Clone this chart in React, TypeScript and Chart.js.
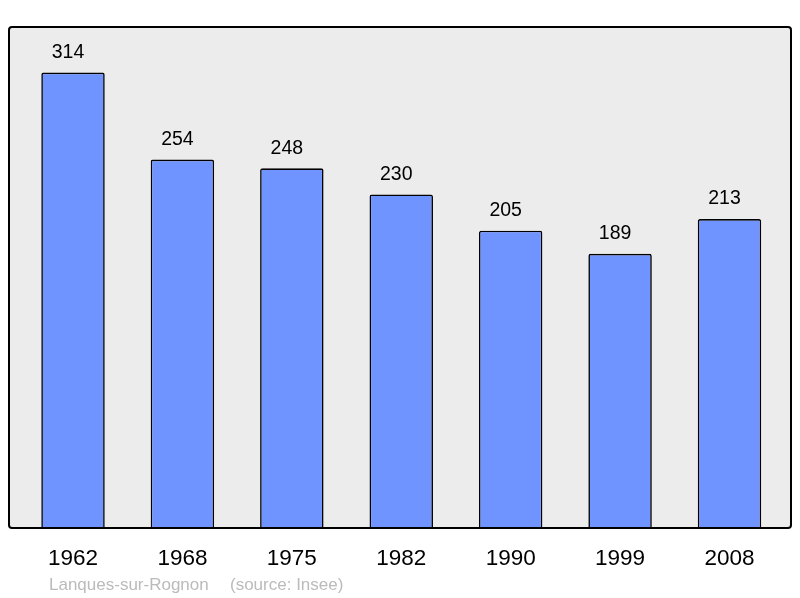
import React, { useEffect, useRef } from "react";
import { Chart, registerables } from "chart.js";

Chart.register(...registerables);

const years = ["1962", "1968", "1975", "1982", "1990", "1999", "2008"];
const population = [314, 254, 248, 230, 205, 189, 213];
const footerName = "Lanques-sur-Rognon";
const footerSource = "(source: Insee)";

const FONT = "'Liberation Sans', Arial, sans-serif";

function boxRect(chartArea: any) {
  return {
    l: chartArea.left - 9.3,
    r: chartArea.right + 6.8,
    t: chartArea.top,
    b: chartArea.bottom,
  };
}

const boxPlugin = {
  id: "grayBox",
  beforeDraw(chart: any) {
    const { ctx, chartArea } = chart;
    const { l, r, t, b } = boxRect(chartArea);
    ctx.save();
    ctx.beginPath();
    (ctx as any).roundRect(l, t, r - l, b - t, 3);
    ctx.fillStyle = "#ececec";
    ctx.fill();
    ctx.restore();
  },
  afterDatasetsDraw(chart: any) {
    const { ctx, chartArea } = chart;
    const { l, r, t, b } = boxRect(chartArea);
    ctx.save();
    ctx.beginPath();
    (ctx as any).roundRect(l, t, r - l, b - t, 3);
    ctx.lineWidth = 2;
    ctx.strokeStyle = "#000";
    ctx.stroke();
    // value labels
    const meta = chart.getDatasetMeta(0);
    ctx.fillStyle = "#000";
    ctx.font = `19.5px ${FONT}`;
    ctx.textAlign = "center";
    ctx.textBaseline = "middle";
    meta.data.forEach((bar: any, i: number) => {
      ctx.fillText(String(population[i]), bar.x - 5, bar.y - 20);
    });
    // footer
    ctx.fillStyle = "#bbbbbb";
    ctx.font = `17px ${FONT}`;
    ctx.textAlign = "left";
    ctx.textBaseline = "alphabetic";
    ctx.fillText(footerName, 49, 590);
    ctx.fillText(footerSource, 230, 590);
    ctx.restore();
  },
};

export default function App() {
  const ref = useRef<HTMLCanvasElement | null>(null);
  useEffect(() => {
    if (!ref.current) return;
    const chart = new Chart(ref.current, {
      type: "bar",
      data: {
        labels: years,
        datasets: [
          {
            data: population,
            backgroundColor: "#7094ff",
            borderColor: "#000",
            borderWidth: 1.6,
            borderRadius: { topLeft: 2, topRight: 2, bottomLeft: 0, bottomRight: 0 },
            borderSkipped: "bottom",
            barPercentage: 0.58,
            categoryPercentage: 1,
          },
        ],
      },
      options: {
        animation: false,
        responsive: false,
        maintainAspectRatio: false,
        layout: { padding: { left: 18.3, right: 15.8, top: 27, bottom: 0 } },
        plugins: {
          legend: { display: false },
          tooltip: { enabled: false },
          title: { display: false },
        },
        scales: {
          x: {
            grid: { display: false },
            border: { display: false },
            ticks: {
              color: "#000",
              font: { family: FONT, size: 22.5 },
              padding: 9,
              maxRotation: 0,
            },
            afterFit: (scale: any) => {
              scale.height = 70;
            },
          },
          y: {
            display: false,
            min: 0,
            max: 345.4,
          },
        },
      },
      plugins: [boxPlugin],
    });
    return () => chart.destroy();
  }, []);
  return (
    <div style={{ position: "fixed", left: 0, top: 0, width: 800, height: 598, background: "#fff" }}>
      <canvas ref={ref} width={800} height={598} style={{ width: 800, height: 598, display: "block" }} />
    </div>
  );
}
